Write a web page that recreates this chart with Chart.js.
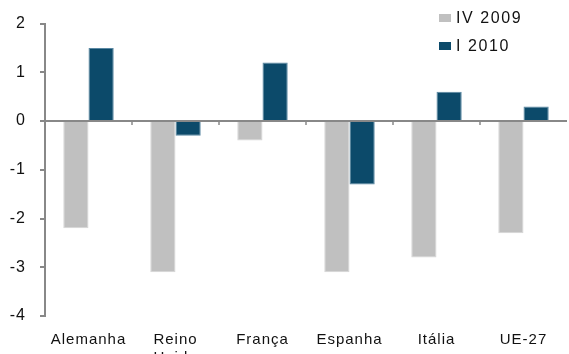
<!DOCTYPE html>
<html>
<head>
<meta charset="utf-8">
<script src="https://cdn.jsdelivr.net/npm/chart.js@4"></script>
<style>
  html, body { margin: 0; padding: 0; background: #fff; }
  #wrap { position: relative; width: 569px; height: 354px; }
  #legenda { position: absolute; left: 439px; top: 8px; font-family: "Liberation Sans", Arial, sans-serif; font-size: 16px; color: #111; letter-spacing: 1.6px; }
  #legenda div { height: 28px; line-height: 20px; white-space: nowrap; }
  #legenda span { display: inline-block; width: 12px; height: 8px; margin-right: 5px; vertical-align: 1px; }
</style>
</head>
<body>
<div id="wrap">
  <canvas id="grafico" width="569" height="354"></canvas>
  <div id="legenda"></div>
</div>
<script>
const paises = ['Alemanha', ['Reino', 'Unido'], 'França', 'Espanha', 'Itália', 'UE-27'];
const iv2009 = [-2.2, -3.1, -0.4, -3.1, -2.8, -2.3];
const i2010 = [1.5, -0.3, 1.2, -1.3, 0.6, 0.3];
const yTicks = [2, 1, 0, -1, -2, -3, -4];

const corCinza = '#c0c0c0';
const corAzul = '#0c4a6a';

// marcas pequenas entre as categorias, sobre a linha do zero
const marcasZero = {
    id: 'marcasZero',
    afterDatasetsDraw(chart) {
        const x = chart.scales.x, y = chart.scales.y;
        const y0 = y.getPixelForValue(0);
        const ctx = chart.ctx;
        ctx.save();
        ctx.strokeStyle = '#888';
        ctx.lineWidth = 1.5;
        for (let i = 0; i < paises.length - 1; i++) {
            const px = (x.getPixelForTick(i) + x.getPixelForTick(i + 1)) / 2;
            ctx.beginPath();
            ctx.moveTo(px, y0);
            ctx.lineTo(px, y0 + 4);
            ctx.stroke();
        }
        ctx.restore();
    }
};

const espacamento = {
    id: 'espacamento',
    beforeUpdate(chart) { chart.ctx.letterSpacing = '1px'; }
};

const ctx = document.getElementById('grafico').getContext('2d');
const grafico = new Chart(ctx, {
    type: 'bar',
    data: {
        labels: paises,
        datasets: [
            { label: 'IV 2009', data: iv2009, backgroundColor: corCinza, borderColor: '#d6d6d6', borderWidth: 1 },
            { label: 'I 2010', data: i2010, backgroundColor: corAzul, borderColor: '#5a88a3', borderWidth: 1 }
        ]
    },
    options: {
        responsive: false,
        animation: false,
        layout: { padding: { top: 21, right: 2, left: 0, bottom: 0 } },
        datasets: { bar: { categoryPercentage: 0.58, barPercentage: 1 } },
        plugins: { legend: { display: false }, tooltip: { enabled: false } },
        scales: {
            x: {
                grid: { display: false, drawTicks: false },
                border: { display: false },
                ticks: { color: '#111', font: { family: 'Liberation Sans', size: 15 }, padding: 15, maxRotation: 0, autoSkip: false },
                afterFit: s => { s.height = 38; }
            },
            y: {
                min: -4, max: 2,
                afterBuildTicks: s => { s.ticks = yTicks.map(v => ({ value: v })); },
                grid: {
                    color: c => c.tick && c.tick.value === 0 ? '#888' : 'rgba(0,0,0,0)',
                    lineWidth: 2,
                    tickColor: '#888',
                    tickLength: 5
                },
                border: { display: true, color: '#888', width: 2 },
                ticks: { color: '#111', font: { family: 'Liberation Sans', size: 16 }, padding: 14 },
                afterFit: s => { s.width = 45; }
            }
        }
    },
    plugins: [espacamento, marcasZero]
});

document.getElementById('legenda').innerHTML = grafico.data.datasets.map(d =>
    `<div><span style="background:${d.backgroundColor}"></span>${d.label}</div>`).join('');
</script>
</body>
</html>
